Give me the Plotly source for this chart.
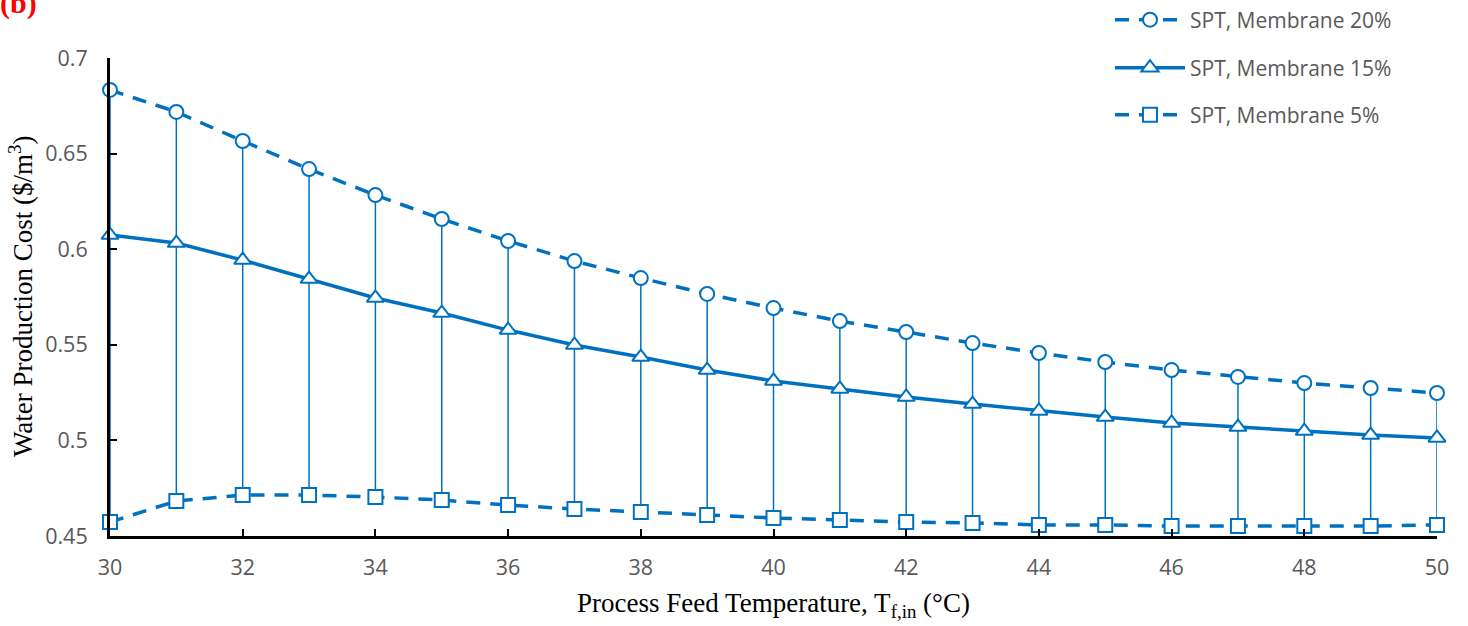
import plotly.graph_objects as go

temps = list(range(30, 51))
cost_20 = [0.6833, 0.6718, 0.6566, 0.6419, 0.6283, 0.6158, 0.6043, 0.5938, 0.5849, 0.5766,
           0.5692, 0.5624, 0.5567, 0.5509, 0.5457, 0.5410, 0.5368, 0.5332, 0.5300, 0.5274, 0.5248]
cost_15 = [0.6074, 0.6032, 0.5943, 0.5844, 0.5745, 0.5666, 0.5577, 0.5499, 0.5436, 0.5368,
           0.5311, 0.5269, 0.5227, 0.5190, 0.5154, 0.5122, 0.5091, 0.5070, 0.5049, 0.5028, 0.5013]
cost_5 = [0.4573, 0.4683, 0.4714, 0.4714, 0.4704, 0.4688, 0.4662, 0.4641, 0.4626, 0.4610,
          0.4594, 0.4584, 0.4573, 0.4568, 0.4558, 0.4558, 0.4552, 0.4552, 0.4552, 0.4552, 0.4558]

names = ["SPT, Membrane 20%", "SPT, Membrane 15%", "SPT, Membrane 5%"]
x_ticks = list(range(30, 51, 2))
y_ticks = [0.45, 0.5, 0.55, 0.6, 0.65, 0.7]

BLUE = "#0070C0"
GRAY = "#595959"
TICKFONT = dict(family="Open Sans", size=21.5, color=GRAY)
TITLEFONT = dict(family="Liberation Serif", size=27, color="black")

fig = go.Figure()

# 5% with range bars up to 20%
fig.add_trace(go.Scatter(
    x=temps, y=cost_5, name=names[2], mode="lines+markers", legend="legend3",
    line=dict(color=BLUE, width=3.5, dash="14px,10px"),
    marker=dict(symbol="square", size=14, color="white", line=dict(color=BLUE, width=2)),
    error_y=dict(type="data", symmetric=False,
                 array=[a - b for a, b in zip(cost_20, cost_5)],
                 arrayminus=[0] * len(temps), color=BLUE, thickness=1.5, width=0),
    cliponaxis=False,
))
fig.add_trace(go.Scatter(
    x=temps, y=cost_15, name=names[1], mode="lines+markers", legend="legend2",
    line=dict(color=BLUE, width=3.5),
    marker=dict(symbol="triangle-up", size=15, color="white", line=dict(color=BLUE, width=2)),
    cliponaxis=False,
))
fig.add_trace(go.Scatter(
    x=temps, y=cost_20, name=names[0], mode="lines+markers", legend="legend",
    line=dict(color=BLUE, width=3.5, dash="14px,10px"),
    marker=dict(symbol="circle", size=14, color="white", line=dict(color=BLUE, width=2)),
    cliponaxis=False,
))

leg_common = dict(xref="container", yref="container", xanchor="left", yanchor="middle",
                  x=1110 / 1468, bgcolor="rgba(0,0,0,0)",
                  font=dict(family="Open Sans", size=21, color=GRAY), itemwidth=70)

fig.update_layout(
    width=1468, height=626,
    margin=dict(l=110, r=31, t=58, b=90, autoexpand=False),
    paper_bgcolor="white", plot_bgcolor="white",
    showlegend=True,
    legend=dict(y=1 - 20 / 626, **leg_common),
    legend2=dict(y=1 - 68 / 626, **leg_common),
    legend3=dict(y=1 - 115 / 626, **leg_common),
    xaxis=dict(
        range=[30, 50], tickvals=x_ticks, ticktext=[str(v) for v in x_ticks],
        showgrid=False, zeroline=False, showline=True, linecolor="black", linewidth=3,
        ticks="inside", ticklen=7, tickwidth=2, tickcolor="black", tickfont=TICKFONT,
        ticklabelstandoff=10, automargin=False,
        title=dict(text="Process Feed Temperature, T<sub>f,in</sub> (°C)",
                   font=TITLEFONT, standoff=14),
    ),
    yaxis=dict(
        range=[0.45, 0.7], tickvals=y_ticks, ticktext=["0.45", "0.5", "0.55", "0.6", "0.65", "0.7"],
        showgrid=False, zeroline=False, showline=True, linecolor="black", linewidth=3,
        ticks="inside", ticklen=7, tickwidth=2, tickcolor="black", tickfont=TICKFONT,
        ticklabelstandoff=15, automargin=False,
    ),
    annotations=[
        dict(text="<b>(b)</b>", xref="paper", yref="paper", x=-0.069, y=1.115,
             xanchor="center", yanchor="middle", showarrow=False,
             font=dict(family="Liberation Serif", size=30, color="red")),
        dict(text="Water Production Cost ($/m<sup>3</sup>)", xref="paper", yref="paper",
             x=(21 - 110) / 1327, y=(536 - 296) / 478, textangle=-90,
             xanchor="center", yanchor="middle", showarrow=False, font=TITLEFONT),
    ],
)

fig.write_html("out.html")
